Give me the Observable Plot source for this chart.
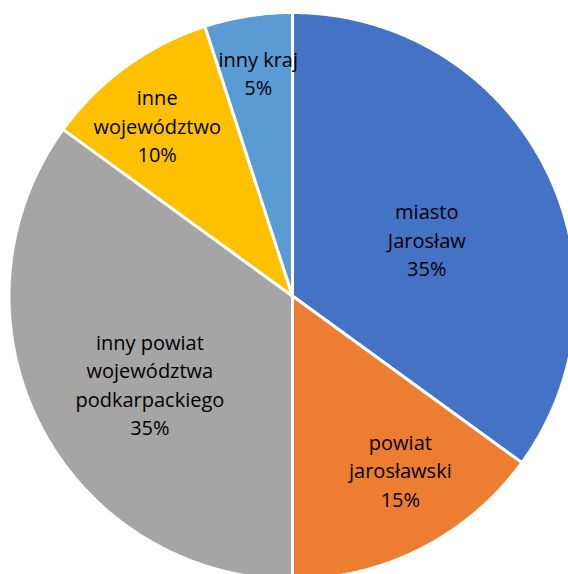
<!DOCTYPE html>
<html>
<head>
<meta charset="utf-8">
<script src="https://cdn.jsdelivr.net/npm/d3@7"></script>
<script src="https://cdn.jsdelivr.net/npm/@observablehq/plot@0.6"></script>
<style>
  html, body { margin: 0; padding: 0; background: #fff; }
  #chart svg { display: block; }
</style>
</head>
<body>
<div id="chart"></div>
<script>
// ---- data ----
const categories = ["miasto Jarosław", "powiat jarosławski", "inny powiat województwa podkarpackiego", "inne województwo", "inny kraj"];
const labelLines = [
  "miasto\nJarosław",
  "powiat\njarosławski",
  "inny powiat\nwojewództwa\npodkarpackiego",
  "inne\nwojewództwo",
  "inny kraj"
];
const shares = [35, 15, 35, 10, 5];
const colors = ["#4472C4", "#ED7D31", "#A5A5A5", "#FFC000", "#5B9BD5"];
// label placement hints: fraction of radius, and nudge (degrees) from each slice's mid-angle
const labelRadius = [0.515, 0.72, 0.59, 0.77, 0.80];
const labelNudge = [3.9, -4.9, -4.5, -2.3, 0.3];

// ---- layout ----
const W = 568, H = 574;
const cx = 292, cy = 295.5, R = 283.5;

const total = d3.sum(shares);
const slices = [];
let acc = 0;
shares.forEach((v, i) => {
  const a0 = acc / total * 2 * Math.PI;
  acc += v;
  const a1 = acc / total * 2 * Math.PI;
  slices.push({cat: categories[i], a0, a1, v, i});
});

// polygon points for each wedge
const wedgePts = [];
for (const s of slices) {
  wedgePts.push({cat: s.cat, x: 0, y: 0});
  const n = Math.max(4, Math.ceil((s.a1 - s.a0) / 0.01));
  for (let k = 0; k <= n; k++) {
    const a = s.a0 + (s.a1 - s.a0) * k / n;
    wedgePts.push({cat: s.cat, x: Math.sin(a), y: Math.cos(a)});
  }
  wedgePts.push({cat: s.cat, x: 0, y: 0});
}

const labels = slices.map(s => {
  const m = (s.a0 + s.a1) / 2 + labelNudge[s.i] * Math.PI / 180;
  const r = labelRadius[s.i];
  return {text: labelLines[s.i] + "\n" + s.v + "%", x: r * Math.sin(m), y: r * Math.cos(m)};
});

const chart = Plot.plot({
  width: W,
  height: H,
  margin: 0,
  x: {domain: [(0 - cx) / R, (W - cx) / R], axis: null},
  y: {domain: [(cy - H) / R, cy / R], axis: null},
  color: {domain: categories, range: colors},
  marks: [
    Plot.line(wedgePts, {
      x: "x", y: "y", z: "cat", fill: "cat",
      stroke: "white", strokeWidth: 3, strokeLinejoin: "miter",
      curve: "linear", clip: true
    }),
    Plot.text(labels, {
      x: "x", y: "y", text: "text",
      fill: "#000", fontSize: 20, lineHeight: 1.425,
      fontFamily: "'Open Sans', Lato, sans-serif",
      textAnchor: "middle", lineAnchor: "middle"
    })
  ]
});
document.getElementById("chart").appendChild(chart);
</script>
</body>
</html>
